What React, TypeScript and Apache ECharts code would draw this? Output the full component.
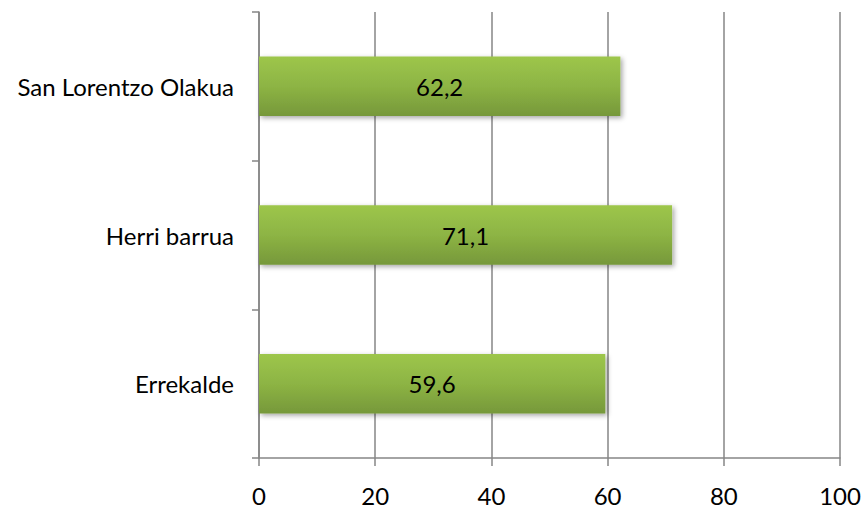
import React, { useEffect, useRef } from "react";
import * as echarts from "echarts";

const categories = ["Errekalde", "Herri barrua", "San Lorentzo Olakua"];
const values = [59.6, 71.1, 62.2];
const xTicks = [0, 20, 40, 60, 80, 100];

export default function App() {
  const ref = useRef<HTMLDivElement>(null);
  useEffect(() => {
    const chart = echarts.init(ref.current!, null, { renderer: "svg" });
    const font = "Lato, 'Open Sans', sans-serif";
    chart.setOption({
      animation: false,
      backgroundColor: "#ffffff",
      grid: { left: 259, right: 24, top: 12, bottom: 51, containLabel: false },
      xAxis: {
        type: "value",
        min: xTicks[0],
        max: xTicks[xTicks.length - 1],
        interval: 20,
        axisLine: { show: true, lineStyle: { color: "#868686", width: 1.5 } },
        axisTick: { show: true, length: 8, lineStyle: { color: "#868686", width: 1.5 } },
        splitLine: { show: true, lineStyle: { color: "#868686", width: 1.5 } },
        axisLabel: { color: "#000", fontSize: 24, fontFamily: font, margin: 25 },
      },
      yAxis: {
        type: "category",
        data: categories,
        axisLine: { show: true, lineStyle: { color: "#868686", width: 1.5 } },
        axisTick: { show: true, length: 7, lineStyle: { color: "#868686", width: 1.5 } },
        axisLabel: { color: "#000", fontSize: 24, fontFamily: font, margin: 25 },
      },
      series: [
        {
          type: "bar",
          data: values,
          barCategoryGap: "60%",
          itemStyle: {
            color: new echarts.graphic.LinearGradient(0, 0, 0, 1, [
              { offset: 0, color: "#9dc64b" },
              { offset: 0.5, color: "#8db444" },
              { offset: 1, color: "#76983a" },
            ]),
            shadowColor: "rgba(0,0,0,0.35)",
            shadowBlur: 5,
            shadowOffsetX: 2,
            shadowOffsetY: 2,
          },
          label: {
            show: true,
            position: "inside",
            color: "#000",
            fontSize: 24,
            fontFamily: font,
            formatter: (p: any) => String(p.value).replace(".", ","),
          },
        },
      ],
    });
    return () => chart.dispose();
  }, []);
  return (
    <div
      ref={ref}
      style={{ position: "fixed", left: 0, top: 0, width: 864, height: 509 }}
    />
  );
}
